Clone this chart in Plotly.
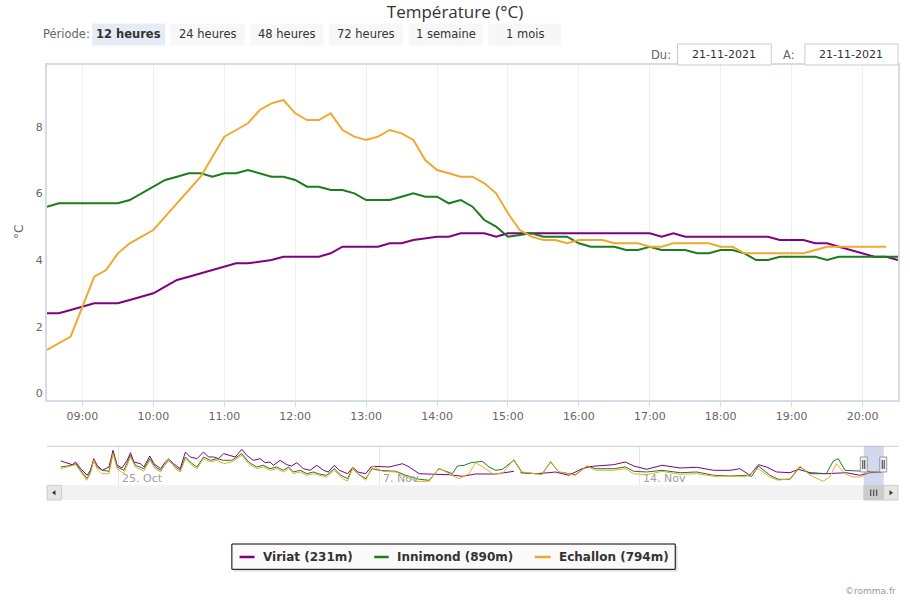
import pandas as pd
import plotly.graph_objects as go

# ---------------- data ----------------
times = pd.date_range("2021-11-21 08:30", periods=73, freq="10min")

viriat = [2.4, 2.4, 2.5, 2.6, 2.7, 2.7, 2.7, 2.8, 2.9, 3.0, 3.2, 3.4, 3.5, 3.6, 3.7, 3.8,
          3.9, 3.9, 3.95, 4.0, 4.1, 4.1, 4.1, 4.1, 4.2, 4.4, 4.4, 4.4, 4.4, 4.5, 4.5, 4.6,
          4.65, 4.7, 4.7, 4.8, 4.8, 4.8, 4.7,
          4.8, 4.8, 4.8, 4.8, 4.8, 4.8, 4.8, 4.8, 4.8, 4.8, 4.8, 4.8, 4.8,
          4.7, 4.8,
          4.7, 4.7, 4.7, 4.7, 4.7, 4.7, 4.7, 4.7,
          4.6, 4.6, 4.6, 4.5, 4.5, 4.4, 4.3, 4.2, 4.1, 4.1, 4.0]

innimond = [5.6, 5.7, 5.7, 5.7, 5.7, 5.7, 5.7, 5.8, 6.0, 6.2, 6.4, 6.5, 6.6, 6.6, 6.5, 6.6,
            6.6, 6.7, 6.6, 6.5, 6.5, 6.4, 6.2, 6.2, 6.1, 6.1, 6.0, 5.8, 5.8, 5.8, 5.9, 6.0,
            5.9, 5.9, 5.7, 5.8, 5.6, 5.2, 5.0, 4.7, 4.75, 4.8, 4.7, 4.7, 4.7, 4.5, 4.4, 4.4,
            4.4, 4.3, 4.3, 4.4, 4.3, 4.3, 4.3, 4.2, 4.2, 4.3, 4.3, 4.2, 4.0, 4.0, 4.1, 4.1,
            4.1, 4.1, 4.0, 4.1, 4.1, 4.1, 4.1, 4.1, 4.1]

echallon = [1.3, 1.5, 1.7, 2.6, 3.5, 3.7, 4.2, 4.5, 4.7, 4.9, 5.3, 5.7, 6.1, 6.5, 7.1, 7.7,
            7.9, 8.1, 8.5, 8.7, 8.8, 8.4, 8.2, 8.2, 8.4, 7.9, 7.7, 7.6, 7.7, 7.9, 7.8, 7.6,
            7.0, 6.7, 6.6, 6.5, 6.5, 6.3, 6.0, 5.4, 4.9, 4.7, 4.6, 4.6, 4.5, 4.6, 4.6, 4.6,
            4.5, 4.5, 4.5, 4.4, 4.4, 4.5, 4.5, 4.5, 4.5, 4.4, 4.4,
            4.2, 4.2, 4.2, 4.2, 4.2, 4.2, 4.3, 4.4, 4.4, 4.4, 4.4, 4.4, 4.4]

series_names = ["Viriat (231m)", "Innimond (890m)", "Echallon (794m)"]
series_colors = ["#800080", "#1a7d1a", "#f0a830"]

# navigator (one month, ordinal day position, temperature)
nav_viriat = [(0.37, 9.5), (0.55, 8.65), (0.68, 7.65), (0.77, 9.0), (0.91, 5.65), (1.08, 2.35),
              (1.17, 4.85), (1.26, 10.65), (1.35, 7.35), (1.49, 4.85), (1.67, 6.5), (1.78, 14.85),
              (1.89, 7.35), (2.02, 6.0), (2.16, 9.85), (2.25, 13.65), (2.34, 9.0), (2.52, 8.15),
              (2.61, 6.5), (2.77, 12.0), (2.88, 8.15), (3.06, 5.65), (3.19, 9.0), (3.28, 10.65),
              (3.41, 8.15), (3.59, 5.65), (3.73, 14.0), (3.86, 11.5), (4.04, 10.65), (4.22, 14.0),
              (4.35, 11.5), (4.49, 11.5), (4.62, 10.65), (4.76, 13.15), (4.89, 12.35), (5.07, 11.5),
              (5.25, 15.35), (5.38, 12.35), (5.56, 9.85), (5.74, 10.65), (5.88, 8.65), (6.01, 9.0),
              (6.10, 7.35), (6.28, 9.85), (6.46, 7.65), (6.59, 7.0), (6.73, 8.65), (6.91, 5.65),
              (7.09, 4.85), (7.27, 7.35), (7.45, 4.85), (7.58, 4.0), (7.74, 7.35), (7.88, 4.85),
              (8.10, 3.15), (8.25, 6.5), (8.37, 4.0), (8.59, 3.15), (8.73, 6.5), (8.82, 6.85),
              (9.22, 6.5), (9.58, 8.15), (9.76, 6.5), (10.03, 3.15), (10.48, 2.85), (10.83, 2.65),
              (11.19, 1.85), (11.55, 3.0), (12.09, 3.0), (12.58, 4.35), (12.67, None), (12.76, 3.65),
              (13.16, 3.15), (13.52, 3.65), (13.70, 4.0), (14.06, 2.35), (14.42, 5.65), (14.69, 6.85),
              (15.27, 7.65), (15.58, 9.0), (15.81, 7.0), (16.16, 5.35), (16.57, 7.35), (17.06, 6.0),
              (17.51, 6.35), (17.96, 4.85), (18.41, 4.85), (18.67, 5.65), (18.94, 2.35), (19.17, 7.65),
              (19.39, 6.5), (19.66, 4.0), (20.02, 3.65), (20.24, 5.35), (20.56, 3.65), (21.00, 3.15),
              (21.54, 3.65), (21.90, 2.35), (22.17, 3.65), (22.35, 4.0), (22.50, 4.1)]

nav_innimond = [(0.37, 6.5), (0.55, 7.0), (0.68, 7.35), (0.77, 8.15), (0.91, 4.85), (1.08, 0.65),
                (1.17, 4.0), (1.26, 9.85), (1.35, 6.5), (1.49, 4.85), (1.67, 4.35), (1.78, 14.0),
                (1.89, 6.5), (2.07, 4.85), (2.25, 12.35), (2.38, 7.35), (2.61, 5.65), (2.77, 10.65),
                (2.92, 6.5), (3.06, 4.85), (3.28, 9.85), (3.46, 6.5), (3.59, 4.85), (3.73, 11.5),
                (3.91, 8.15), (4.04, 6.5), (4.22, 11.5), (4.40, 9.85), (4.58, 10.65), (4.76, 9.85),
                (4.98, 9.85), (5.25, 13.15), (5.43, 9.0), (5.65, 6.5), (5.83, 7.35), (6.01, 5.65),
                (6.19, 6.5), (6.37, 4.85), (6.51, 6.5), (6.64, 4.0), (6.82, 4.85), (7.00, 3.15),
                (7.18, 4.0), (7.36, 2.85), (7.53, 2.35), (7.74, 5.65), (7.92, 2.35), (8.10, 0.65),
                (8.23, 6.0), (8.37, 3.15), (8.59, 0.65), (8.76, 5.65), (8.95, 4.85), (9.40, 4.35),
                (9.67, 2.35), (10.03, 0.35), (10.30, -0.15), (10.56, 5.65), (10.92, 3.15), (11.06, 7.0),
                (11.24, 7.35), (11.42, 8.65), (11.73, 9.35), (11.91, 6.5), (12.09, 4.85), (12.27, 5.35),
                (12.58, 9.85), (12.80, 3.65), (13.34, 3.0), (13.57, 9.0), (13.79, 4.0), (14.24, 2.65),
                (14.55, 7.0), (14.78, 5.65), (15.27, 5.65), (15.58, 6.5), (15.81, 4.35), (16.16, 4.0),
                (16.57, 4.85), (17.06, 3.65), (17.51, 4.0), (17.96, 2.35), (18.41, 2.0), (18.85, 2.35),
                (18.99, 1.85), (19.17, 7.0), (19.48, 2.35), (19.70, 0.35), (20.02, 0.35), (20.29, 6.5),
                (20.56, 3.15), (21.00, 3.15), (21.18, 9.35), (21.32, 10.65), (21.50, 4.85), (21.90, 4.35),
                (22.35, 4.0), (22.50, 4.1)]

nav_echallon = [(0.37, 5.65), (0.55, 6.5), (0.77, 7.65), (0.91, 4.0), (1.07, -0.15), (1.17, 3.15),
                (1.26, 9.85), (1.35, 5.65), (1.49, 3.15), (1.67, 3.15), (1.78, 13.15), (1.89, 5.65),
                (2.07, 3.15), (2.25, 11.5), (2.38, 6.5), (2.61, 4.35), (2.77, 9.85), (2.92, 5.65),
                (3.06, 4.0), (3.28, 10.65), (3.46, 5.65), (3.59, 4.0), (3.73, 10.65), (3.91, 7.35),
                (4.04, 5.65), (4.22, 10.65), (4.40, 9.0), (4.58, 9.85), (4.76, 8.15), (4.98, 9.0),
                (5.25, 12.35), (5.43, 8.15), (5.65, 5.65), (5.83, 6.5), (6.01, 4.85), (6.19, 5.65),
                (6.37, 4.0), (6.51, 5.65), (6.64, 3.15), (6.82, 4.0), (7.00, 2.35), (7.18, 3.15),
                (7.36, 2.35), (7.53, 1.5), (7.74, 4.85), (7.97, 0.65), (8.10, -0.65), (8.25, 6.5),
                (8.37, 3.15), (8.59, -0.15), (8.77, 7.0), (9.04, 4.35), (9.40, 4.0), (9.67, 1.5),
                (9.94, -0.65), (10.30, -0.65), (10.56, 6.0), (10.83, 3.15), (11.10, 0.65), (11.37, 3.15),
                (11.55, 8.65), (11.82, 5.65), (12.00, 3.15), (12.27, 3.15), (12.58, 10.35), (12.80, 4.0),
                (13.34, 2.65), (13.57, 9.35), (13.79, 4.0), (14.24, 2.35), (14.55, 7.0), (14.78, 4.85),
                (15.27, 4.85), (15.58, 5.65), (15.81, 3.15), (16.16, 2.65), (16.57, 4.35), (17.06, 2.85),
                (17.51, 3.15), (17.96, 1.85), (18.41, 1.85), (18.85, 1.85), (19.17, 5.65), (19.48, 1.5),
                (19.70, -0.15), (20.02, 0.65), (20.29, 7.0), (20.56, 2.35), (20.91, -0.65), (21.09, 1.5),
                (21.27, 8.15), (21.50, 3.15), (21.72, 1.5), (21.94, 1.5), (22.17, 4.0), (22.35, 4.35),
                (22.48, 4.4)]

nav_tick_days = [1.92, 8.95, 15.96]
nav_tick_labels = ["25. Oct", "7. Nov", "14. Nov"]

period_buttons = ["12 heures", "24 heures", "48 heures", "72 heures", "1 semaine", "1 mois"]
date_from = "21-11-2021"
date_to = "21-11-2021"

# ---------------- figure ----------------
W, H = 910, 600
ML, MR, MT, MB = 47, 10, 65, 100
PW = W - ML - MR
PH = H - MT - MB


def px(x):
    return (x - ML) / PW


def py(y):
    return (H - MB - y) / PH


FONT = "DejaVu Sans"
fig = go.Figure()

main_series = [viriat, innimond, echallon]
for name, color, vals in zip(series_names, series_colors, main_series):
    fig.add_trace(go.Scatter(x=times[:len(vals)], y=vals, mode="lines", name=name,
                             line=dict(color=color, width=2), xaxis="x", yaxis="y",
                             showlegend=False))

for name, color, pts in zip(series_names, series_colors, [nav_viriat, nav_innimond, nav_echallon]):
    fig.add_trace(go.Scatter(x=[p[0] for p in pts], y=[p[1] for p in pts], mode="lines",
                             name=name, line=dict(color=color, width=1), xaxis="x2", yaxis="y2",
                             showlegend=False, connectgaps=False, hoverinfo="skip"))

frame = "#d3dde7"
fig.update_layout(
    width=W, height=H,
    margin=dict(l=ML, r=MR, t=MT, b=MB),
    paper_bgcolor="white", plot_bgcolor="white",
    font=dict(family=FONT, color="#666", size=11),
    title=dict(text="Température (°C)", x=0.5, xanchor="center", xref="container",
               y=1 - 12 / H, yref="container", yanchor="middle",
               font=dict(family="Open Sans", size=17, color="#333")),
    xaxis=dict(domain=[0, 1], anchor="y", type="date",
               range=["2021-11-21 08:30", "2021-11-21 20:30"],
               showline=True, mirror=True, linecolor=frame, linewidth=2,
               showgrid=True, gridcolor="#edf1f5", gridwidth=1, zeroline=False,
               ticks="outside", ticklen=5, tickcolor=frame, tickwidth=1,
               tick0="2021-11-21 09:00", dtick=3600000, tickformat="%H:%M",
               tickfont=dict(family=FONT, size=11, color="#666")),
    yaxis=dict(domain=[py(400), 1], anchor="x", range=[-0.2, 9.85],
               tickvals=[0, 2, 4, 6, 8], showgrid=False, zeroline=False,
               showline=True, mirror=True, linecolor=frame, linewidth=2,
               ticks="", tickfont=dict(family=FONT, size=11, color="#666")),
    xaxis2=dict(domain=[0, 1], anchor="y2", range=[0, (900 - ML) / 37.2],
                tickvals=nav_tick_days, showticklabels=False, ticks="",
                showgrid=True, gridcolor="#e6e6e6", zeroline=False, showline=False),
    yaxis2=dict(domain=[py(485.3), py(446.3)], anchor="x2", range=[-2.65, 16.85],
                showticklabels=False, showgrid=False, zeroline=False, showline=False),
    hovermode=False,
)

shapes = []
ann = []


def rect(x0, y0, x1, y1, fill, line=None, lw=0, layer="above"):
    shapes.append(dict(type="rect", xref="paper", yref="paper",
                       x0=px(x0), x1=px(x1), y0=py(y1), y1=py(y0),
                       fillcolor=fill, line=dict(color=line or fill, width=lw), layer=layer))


def hline(x0, x1, y, color, w=1):
    shapes.append(dict(type="line", xref="paper", yref="paper", x0=px(x0), x1=px(x1),
                       y0=py(y), y1=py(y), line=dict(color=color, width=w)))


def vline(x, y0, y1, color, w=1):
    shapes.append(dict(type="line", xref="paper", yref="paper", x0=px(x), x1=px(x),
                       y0=py(y0), y1=py(y1), line=dict(color=color, width=w)))


def text(x, y, s, size=11, color="#666", xanchor="center", family=FONT, angle=0):
    ann.append(dict(x=px(x), y=py(y), xref="paper", yref="paper", text=s, showarrow=False,
                    xanchor=xanchor, yanchor="middle", textangle=angle,
                    font=dict(family=family, size=size, color=color)))


def tri(points, color="#333"):
    path = "M " + " L ".join(f"{px(a):.5f},{py(b):.5f}" for a, b in points) + " Z"
    shapes.append(dict(type="path", xref="paper", yref="paper", path=path,
                       fillcolor=color, line=dict(color=color, width=0)))


# period buttons
text(40.5, 34.5, "Période:", size=11.5, color="#666", xanchor="left")
btn_x = [(92.3, 165.4), (170.4, 245.0), (250.8, 324.2), (329.6, 403.8), (409.6, 483.5), (489.2, 562.3)]
for i, (lbl, (a, b)) in enumerate(zip(period_buttons, btn_x)):
    sel = i == 0
    rect(a, 23.5, b, 45.5, "#e6ebf5" if sel else "#f7f7f7")
    text((a + b) / 2, 34.5, f"<b>{lbl}</b>" if sel else lbl, size=11.5, color="#333")

# date inputs
text(662.5, 54.5, "Du:", size=11.5, color="#666")
rect(679, 44, 773, 65, "white", "#cccccc", 1)
text(726, 54.5, date_from, size=11, color="#333")
text(791, 54.5, "A:", size=11.5, color="#666")
rect(806.7, 44, 900, 65, "white", "#cccccc", 1)
text(853.3, 54.5, date_to, size=11, color="#333")

# y axis title
text(19, 232, "°C", size=12, color="#666", angle=-90)

# navigator decorations
hline(47, 900, 446.3, "#cccccc", 1)
rect(865.7, 446.3, 885.7, 485.3, "rgba(102,133,194,0.3)")
for hx in (865.7, 885.2):
    rect(hx - 3.5, 457, hx + 3.5, 472, "#f2f2f2", "#999999", 1)
    vline(hx - 1, 460, 469, "#333", 1)
    vline(hx + 1, 460, 469, "#333", 1)
for d, lbl in zip(nav_tick_days, nav_tick_labels):
    ann.append(dict(x=d, y=py(478.7), xref="x2", yref="paper", text=lbl, showarrow=False,
                    xanchor="left", yanchor="middle", xshift=2,
                    font=dict(family=FONT, size=11, color="#a0a0a0")))

# scrollbar
rect(47, 485.3, 900, 500, "#f2f2f2")
rect(47, 485.3, 61.5, 500, "#e6e6e6", "#cccccc", 1)
tri([(52, 492.7), (55.5, 490.2), (55.5, 495.2)])
rect(865.7, 485.3, 885.7, 500, "#cccccc", "#cccccc", 1)
for gx in (872.7, 875.7, 878.7):
    vline(gx, 489.5, 496, "#333", 1)
rect(885.7, 485.3, 900, 500, "#e6e6e6", "#cccccc", 1)
tri([(895, 492.7), (891.5, 490.2), (891.5, 495.2)])

# legend box (manual)
rect(234, 546, 679, 571.5, "rgba(0,0,0,0.13)")
rect(232.3, 544, 676.7, 569.3, "#fafafa", "#000000", 1)
leg_items = [(240, 255, 261.7), (375, 389.5, 396), (536, 551.7, 558.3)]
for (l0, l1, tx), name, color in zip(leg_items, series_names, series_colors):
    hline(l0, l1, 557, color, 2.5)
    text(tx, 557, f"<b>{name}</b>", size=12, color="#333", xanchor="left")

# credit
text(900, 591, "©romma.fr", size=9, color="#999", xanchor="right")

fig.update_layout(shapes=shapes, annotations=ann)
fig.write_html("out.html")
